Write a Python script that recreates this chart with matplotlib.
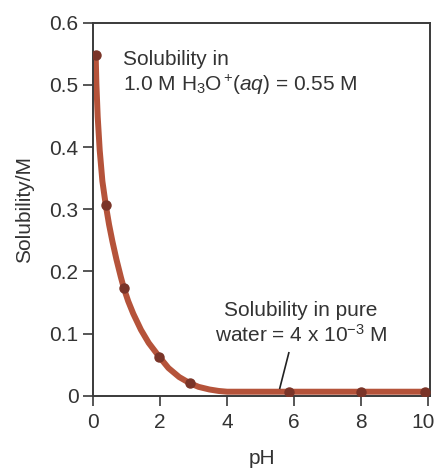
import matplotlib; matplotlib.use("Agg")
import matplotlib.pyplot as plt
from matplotlib.transforms import ScaledTranslation

plt.rcParams.update({"font.family": "Liberation Sans", "font.size": 15,
                     "mathtext.fontset": "custom", "mathtext.rm": "Liberation Sans",
                     "mathtext.it": "Liberation Sans:italic", "mathtext.sf": "Liberation Sans"})
INK = "#333333"; CURVE = "#b5533a"; DOT = "#7a3428"

# measured points
ph_pts = [0.08, 0.38, 0.92, 1.97, 2.89, 5.84, 7.99, 9.91]
sol_pts = [0.548, 0.307, 0.173, 0.063, 0.020, 0.0064, 0.0064, 0.0064]
# smooth curve
ph_curve = [0.08, 0.10, 0.14, 0.20, 0.28, 0.38, 0.48, 0.58, 0.70, 0.83, 0.92, 1.05, 1.20, 1.43, 1.66, 1.97, 2.25, 2.57, 2.89, 3.15, 3.47, 3.75, 4.0, 6.0, 8.0, 10.0]
sol_curve = [0.548, 0.503, 0.449, 0.395, 0.345, 0.307, 0.275, 0.248, 0.219, 0.191, 0.173, 0.152, 0.132, 0.106, 0.085, 0.063, 0.0445, 0.030, 0.020, 0.0142, 0.0100, 0.0076, 0.0064, 0.0064, 0.0064, 0.0064]
xticks = [0, 2, 4, 6, 8, 10]
yticks = [0, 0.1, 0.2, 0.3, 0.4, 0.5, 0.6]
ytick_labels = ["0", "0.1", "0.2", "0.3", "0.4", "0.5", "0.6"]

fig = plt.figure(figsize=(4.37, 4.68), dpi=100)
ax = fig.add_axes([0.2128, 0.1545, 0.7712, 0.797])
ax.plot(ph_curve, sol_curve, color=CURVE, lw=4.3, solid_capstyle="round", solid_joinstyle="round", zorder=2)
ax.plot(ph_pts, sol_pts, "o", color=DOT, ms=6.5, zorder=3)

ax.set_xlim(0, 10.05); ax.set_ylim(0, 0.6)
ax.set_xticks(xticks); ax.set_yticks(yticks); ax.set_yticklabels(ytick_labels)
for s in ax.spines.values():
    s.set_color("#3a3a3a"); s.set_linewidth(1.4)
ax.tick_params(direction="out", length=7.5, width=1.2, color="#3a3a3a", labelcolor=INK)
ax.tick_params(axis="y", pad=3)
ax.tick_params(axis="x", pad=5)
# last x label sits a little left of its tick, as in the original
last = ax.get_xticklabels()[-1]
last.set_transform(last.get_transform() + ScaledTranslation(-5/100, 0, fig.dpi_scale_trans))
ax.set_xlabel("pH", color=INK, labelpad=12)
ax.set_ylabel("Solubility/M", color=INK, labelpad=11)

ax.text(0.9, 0.556, "Solubility in\n1.0 M $\\mathregular{H_3O^+}\\!\\mathregular{(}\\mathit{aq}\\mathregular{)}$ = 0.55 M",
        va="top", ha="left", color=INK, linespacing=1.2)
ax.text(6.2, 0.152, "Solubility in pure\nwater = 4 x 10$^{-3}$ M",
        va="top", ha="center", multialignment="center", color=INK, linespacing=1.2)
ax.plot([5.84, 5.57], [0.069, 0.012], color="#222222", lw=1.2)

fig.savefig("out.png", dpi=100)
